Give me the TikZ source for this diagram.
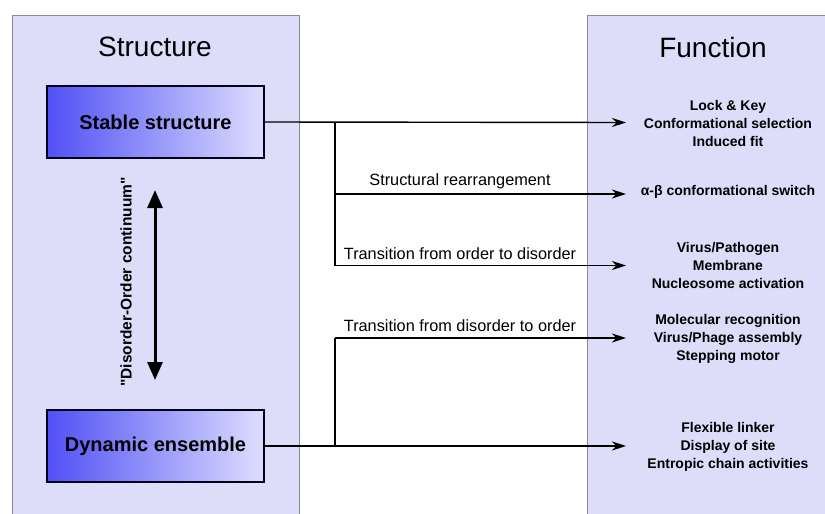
\documentclass[tikz,border=0pt]{standalone}
\usepackage{fontspec}
\setmainfont{Liberation Sans}
\newfontfamily\qfont{Liberation Sans}[Ligatures=TeXOff]
\usetikzlibrary{arrows.meta}
\definecolor{panelfill}{RGB}{221,221,250}
\definecolor{panelline}{RGB}{140,140,150}
\definecolor{gradleft}{RGB}{80,80,245}
\definecolor{gradright}{RGB}{222,222,255}
\tikzset{
  panel/.style={draw=panelline, line width=1pt, fill=panelfill},
  statebox/.style={draw=black!90!blue, line width=1.5pt, left color=gradleft, right color=gradright, minimum width=217pt, minimum height=72pt, inner sep=0pt, font=\fontsize{20}{24}\selectfont\bfseries},
  title/.style={font=\fontsize{28}{32}\selectfont},
  funclabel/.style={align=center, font=\fontsize{14}{18}\selectfont\bfseries, inner sep=0pt},
  linelabel/.style={font=\fontsize{16.3}{18}\selectfont, inner sep=0pt},
  conn/.style={line width=1.4pt},
  arr/.style={line width=1.4pt, -{Stealth[length=14pt,width=9pt,inset=4.5pt]}},
}
\begin{document}
\begin{tikzpicture}[x=1pt,y=-1pt]
\useasboundingbox (0,0) rectangle (825,514);
\fill[white] (0,0) rectangle (825,514);
% panels
\path[panel] (12,15) rectangle (299,520);
\path[panel] (587,15) rectangle (830,520);
\node[title] (tstruct) at (155,47) {Structure};
\node[title] (tfunc) at (713,47) {Function};
% state boxes
\node[statebox] (stable) at (155.5,122) {Stable structure};
\node[statebox] (dynamic) at (155.5,446) {Dynamic ensemble};
% continuum arrow
\coordinate (ctop) at (155,190);
\coordinate (cbot) at (155,380);
\draw[line width=3pt, {Triangle[width=15pt,length=18pt]}-{Triangle[width=15pt,length=18pt]}] (ctop) -- (cbot);
\node[rotate=90, font=\qfont\fontsize{15.5}{18}\selectfont\bfseries, inner sep=0pt] (clabel) at (126,282) {"Disorder-Order continuum"};
% function labels
\node[funclabel] (f1) at (728,123) {Lock \& Key\\Conformational selection\\Induced fit};
\node[funclabel] (f2) at (728,192) {α-β conformational switch};
\node[funclabel] (f3) at (728,265) {Virus/Pathogen\\Membrane\\Nucleosome activation};
\node[funclabel] (f4) at (728,339) {Molecular recognition\\Virus/Phage assembly\\Stepping motor};
\node[funclabel] (f5) at (728,447) {Flexible linker\\Display of site\\Entropic chain activities};
% connector coordinates
\coordinate (j1) at (335,122.5);
\coordinate (j2) at (335,194);
\coordinate (j3) at (335,265.5);
\coordinate (j4) at (335,338);
\coordinate (j5) at (335,446);
\coordinate (e1) at (626,122.5);
\coordinate (e2) at (626,194);
\coordinate (e3) at (626,265.5);
\coordinate (e4) at (626,338);
\coordinate (e5) at (626,446);
\draw[arr] (stable.east) -- (e1);
\draw[conn] (j1) -- (j3);
\draw[arr] (j2) -- (e2);
\draw[arr] (j3) -- (e3);
\draw[arr] (dynamic.east) -- (e5);
\draw[conn] (j5) -- (j4);
\draw[arr] (j4) -- (e4);
% line labels
\node[linelabel] (l2) at (460,181) {Structural rearrangement};
\node[linelabel] (l3) at (460,254) {Transition from order to disorder};
\node[linelabel] (l4) at (460,326) {Transition from disorder to order};
\end{tikzpicture}
\end{document}
